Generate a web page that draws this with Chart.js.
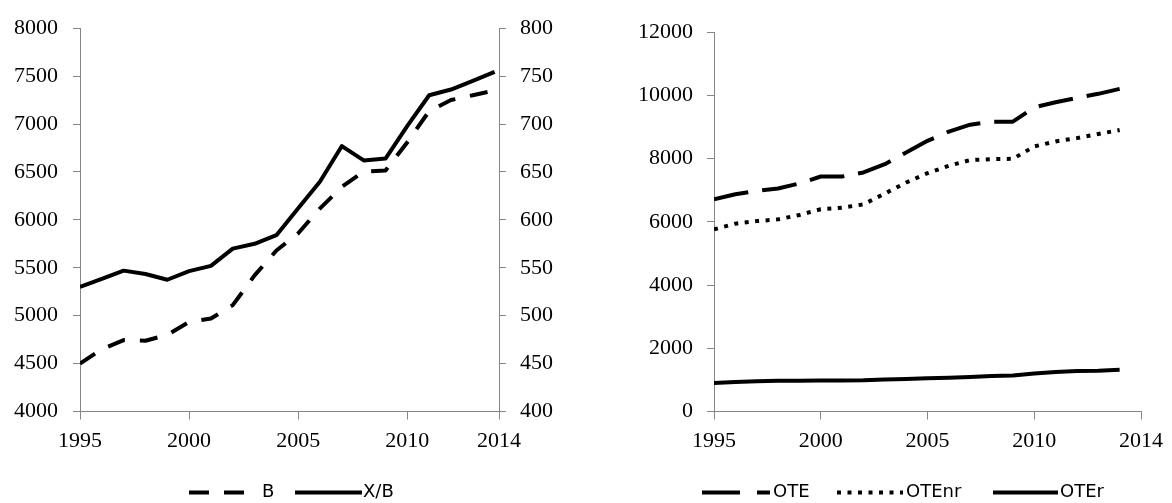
<!DOCTYPE html>
<html>
<head>
<meta charset="utf-8">
<script src="https://cdn.jsdelivr.net/npm/chart.js@4/dist/chart.umd.min.js"></script>
<style>
  html, body { margin: 0; padding: 0; background: #fff; }
  #wrap { position: relative; width: 1172px; height: 503px; }
  .panel { position: absolute; top: 0; width: 586px; height: 503px; }
</style>
</head>
<body>
<div id="wrap">
  <div class="panel" style="left:0"><canvas id="left"></canvas></div>
  <div class="panel" style="left:586px"><canvas id="right"></canvas></div>
</div>
<script>
// Years on the horizontal axis
const years = [1995, 1996, 1997, 1998, 1999, 2000, 2001, 2002, 2003, 2004,
               2005, 2006, 2007, 2008, 2009, 2010, 2011, 2012, 2013, 2014];

// Left panel: B (left axis) and X/B (right axis)
const seriesB  = [4500, 4650, 4745, 4738, 4800, 4935, 4970, 5110, 5420, 5680,
                  5860, 6120, 6345, 6505, 6515, 6810, 7135, 7250, 7300, 7350];
const seriesXB = [530, 538.5, 547, 543.5, 537.5, 546.5, 552, 570, 575, 584,
                  612, 640, 677, 662, 664, 698, 730, 736, 745, 754.5];

// Right panel: OTE, OTEnr, OTEr
const seriesOTE   = [6710, 6870, 6975, 7050, 7210, 7430, 7430, 7560, 7820, 8190,
                     8560, 8850, 9070, 9165, 9165, 9620, 9780, 9915, 10045, 10200];
const seriesOTEnr = [5760, 5940, 6020, 6075, 6215, 6395, 6445, 6550, 6890, 7240,
                     7535, 7770, 7950, 7980, 7990, 8380, 8540, 8645, 8775, 8900];
const seriesOTEr  = [900, 930, 960, 970, 975, 980, 980, 985, 1010, 1030,
                     1050, 1070, 1090, 1120, 1140, 1200, 1250, 1280, 1290, 1320];

// Tick labels
const xTickYears = [1995, 2000, 2005, 2010];
const xEndLabel = '2014';
const leftAxisTicks  = [4000, 4500, 5000, 5500, 6000, 6500, 7000, 7500, 8000];
const rightAxisTicks = [400, 450, 500, 550, 600, 650, 700, 750, 800];
const oteAxisTicks   = [0, 2000, 4000, 6000, 8000, 10000, 12000];

const toPoints = vals => years.map((yr, i) => ({ x: yr, y: vals[i] }));

const AXIS_GREY = '#868686';
const TICK_FONT = { family: '"Liberation Serif", "Times New Roman", serif', size: 22 };
const KEY_FONT = '18px "DejaVu Sans", Verdana, sans-serif';

// Draws the line-sample key under each panel
const lineKey = {
  id: 'lineKey',
  afterDraw(chart, args, opts) {
    const ctx = chart.ctx;
    ctx.save();
    ctx.font = KEY_FONT;
    ctx.fillStyle = '#000';
    ctx.textBaseline = 'middle';
    ctx.textAlign = 'left';
    for (const it of opts.items) {
      ctx.beginPath();
      ctx.setLineDash(it.dash || []);
      ctx.lineWidth = 4;
      ctx.lineCap = 'butt';
      ctx.strokeStyle = '#000';
      ctx.moveTo(it.x0, opts.y);
      ctx.lineTo(it.x1, opts.y);
      ctx.stroke();
      ctx.setLineDash([]);
      ctx.fillText(it.label, it.tx, opts.y);
    }
    ctx.restore();
  }
};

function xScale(maxVal, fitHeight) {
  return {
    type: 'linear',
    min: 1995,
    max: maxVal,
    afterBuildTicks(scale) {
      scale.ticks = xTickYears.concat([maxVal]).map(v => ({ value: v }));
    },
    afterFit(scale) { scale.height = fitHeight; },
    grid: { display: true, drawOnChartArea: false, drawTicks: true, tickLength: 8, color: AXIS_GREY, lineWidth: 1 },
    border: { display: true, color: AXIS_GREY, width: 1 },
    ticks: {
      font: TICK_FONT, color: '#000', padding: 9, maxRotation: 0, autoSkip: false,
      callback: v => (v === maxVal ? xEndLabel : String(v))
    }
  };
}

function yScale(position, tickList, fitWidth, pad) {
  return {
    type: 'linear',
    position: position,
    min: tickList[0],
    max: tickList[tickList.length - 1],
    afterBuildTicks(scale) { scale.ticks = tickList.map(v => ({ value: v })); },
    afterFit(scale) { scale.width = fitWidth; },
    grid: { display: true, drawOnChartArea: false, drawTicks: true, tickLength: 7, color: AXIS_GREY, lineWidth: 1 },
    border: { display: true, color: AXIS_GREY, width: 1 },
    ticks: { font: TICK_FONT, color: '#000', padding: pad, autoSkip: false, callback: v => String(v) }
  };
}

const lineStyle = (dash, cap) => ({
  borderColor: '#000',
  backgroundColor: '#000',
  borderWidth: 4,
  borderDash: dash,
  borderCapStyle: cap || 'butt',
  borderJoinStyle: 'round',
  pointRadius: 0,
  pointHoverRadius: 0,
  tension: 0,
  fill: false
});

new Chart(document.getElementById('left'), {
  type: 'line',
  data: {
    datasets: [
      Object.assign({ label: 'B', data: toPoints(seriesB), yAxisID: 'yB' }, lineStyle([18, 15])),
      Object.assign({ label: 'X/B', data: toPoints(seriesXB), yAxisID: 'yXB' }, lineStyle([]))
    ]
  },
  options: {
    responsive: true,
    maintainAspectRatio: false,
    animation: false,
    events: [],
    layout: { padding: { top: 27.5, right: 0, bottom: 0, left: 0 } },
    scales: {
      x: xScale(2014.2, 91.5),
      yB: yScale('left', leftAxisTicks, 80, 15),
      yXB: yScale('right', rightAxisTicks, 87, 14)
    },
    plugins: {
      legend: { display: false },
      tooltip: { enabled: false },
      lineKey: {
        y: 492.5,
        items: [
          { x0: 189, x1: 244, dash: [20, 15], label: 'B', tx: 262 },
          { x0: 295, x1: 362, dash: [], label: 'X/B', tx: 363 }
        ]
      }
    }
  },
  plugins: [lineKey]
});

new Chart(document.getElementById('right'), {
  type: 'line',
  data: {
    datasets: [
      Object.assign({ label: 'OTE', data: toPoints(seriesOTE) }, lineStyle([35, 14])),
      Object.assign({ label: 'OTEnr', data: toPoints(seriesOTEnr) }, lineStyle([4, 6.5])),
      Object.assign({ label: 'OTEr', data: toPoints(seriesOTEr) }, lineStyle([]))
    ]
  },
  options: {
    responsive: true,
    maintainAspectRatio: false,
    animation: false,
    events: [],
    layout: { padding: { top: 32, right: 26, bottom: 0, left: 0 } },
    scales: {
      x: xScale(2015, 91.5),
      y: yScale('left', oteAxisTicks, 128, 14)
    },
    plugins: {
      legend: { display: false },
      tooltip: { enabled: false },
      lineKey: {
        y: 492.5,
        items: [
          { x0: 116, x1: 184, dash: [38, 17], label: 'OTE', tx: 187 },
          { x0: 251, x1: 317, dash: [4, 6.5], label: 'OTEnr', tx: 320 },
          { x0: 407, x1: 472, dash: [], label: 'OTEr', tx: 474 }
        ]
      }
    }
  },
  plugins: [lineKey]
});
</script>
</body>
</html>
